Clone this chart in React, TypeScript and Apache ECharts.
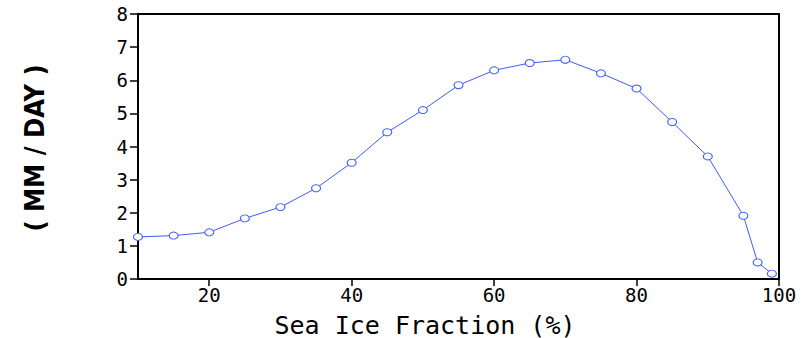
import React, { useEffect, useRef } from "react";
import * as echarts from "echarts";

const iceFraction = [10, 15, 20, 25, 30, 35, 40, 45, 50, 55, 60, 65, 70, 75, 80, 85, 90, 95, 97, 99];
const rate = [1.27, 1.31, 1.41, 1.83, 2.17, 2.74, 3.51, 4.43, 5.1, 5.85, 6.3, 6.52, 6.62, 6.21, 5.75, 4.74, 3.7, 1.91, 0.5, 0.16];
const xTicks = [20, 40, 60, 80, 100];
const xTitle = "Sea Ice Fraction (%)";
const yTitle = "( MM / DAY )";

export default function App() {
  const ref = useRef<HTMLDivElement>(null);
  useEffect(() => {
    if (!ref.current) return;
    const chart = echarts.init(ref.current, null, { renderer: "svg" });
    const mono = "DejaVu Sans Mono";
    chart.setOption({
      animation: false,
      backgroundColor: "#ffffff",
      grid: {
        left: 138,
        right: 27,
        top: 14,
        bottom: 59,
        show: true,
        borderColor: "#000",
        borderWidth: 2,
        backgroundColor: "transparent",
      },
      xAxis: {
        type: "value",
        min: 10,
        max: 100,
        interval: 10,
        axisLine: { show: true, lineStyle: { color: "#000", width: 2 } },
        axisTick: { show: true, length: 7, customValues: xTicks, lineStyle: { color: "#000", width: 1.5 } },
        axisLabel: {
          customValues: xTicks,
          color: "#000",
          fontFamily: mono,
          fontSize: 19,
          margin: 6,
        },
        splitLine: { show: false },
      },
      yAxis: {
        type: "value",
        min: 0,
        max: 8,
        interval: 1,
        axisLine: { show: true, lineStyle: { color: "#000", width: 2 } },
        axisTick: { show: true, length: 8, lineStyle: { color: "#000", width: 1.5 } },
        axisLabel: { color: "#000", fontFamily: mono, fontSize: 19, margin: 10 },
        splitLine: { show: false },
      },
      graphic: [
        {
          type: "text",
          x: 425,
          y: 325,
          style: {
            text: xTitle,
            fontFamily: mono,
            fontSize: 25,
            fill: "#000",
            align: "center",
            verticalAlign: "middle",
          },
        },
        {
          type: "text",
          x: 34,
          y: 148,
          rotation: Math.PI / 2,
          style: {
            text: yTitle,
            fontFamily: "DejaVu Sans Condensed",
            fontWeight: "bold",
            fontSize: 27,
            fill: "#000",
            align: "center",
            verticalAlign: "middle",
          },
        },
      ],
      series: [
        {
          type: "line",
          data: iceFraction.map((x, i) => [x, rate[i]]),
          symbol: "circle",
          symbolSize: [9, 7],
          lineStyle: { color: "#3f5cf5", width: 1 },
          itemStyle: { color: "#ffffff", borderColor: "#3f5cf5", borderWidth: 1 },
          clip: false,
        },
      ],
    });
    return () => chart.dispose();
  }, []);
  return (
    <div
      ref={ref}
      style={{ position: "fixed", left: 0, top: 0, width: 806, height: 338 }}
    />
  );
}
